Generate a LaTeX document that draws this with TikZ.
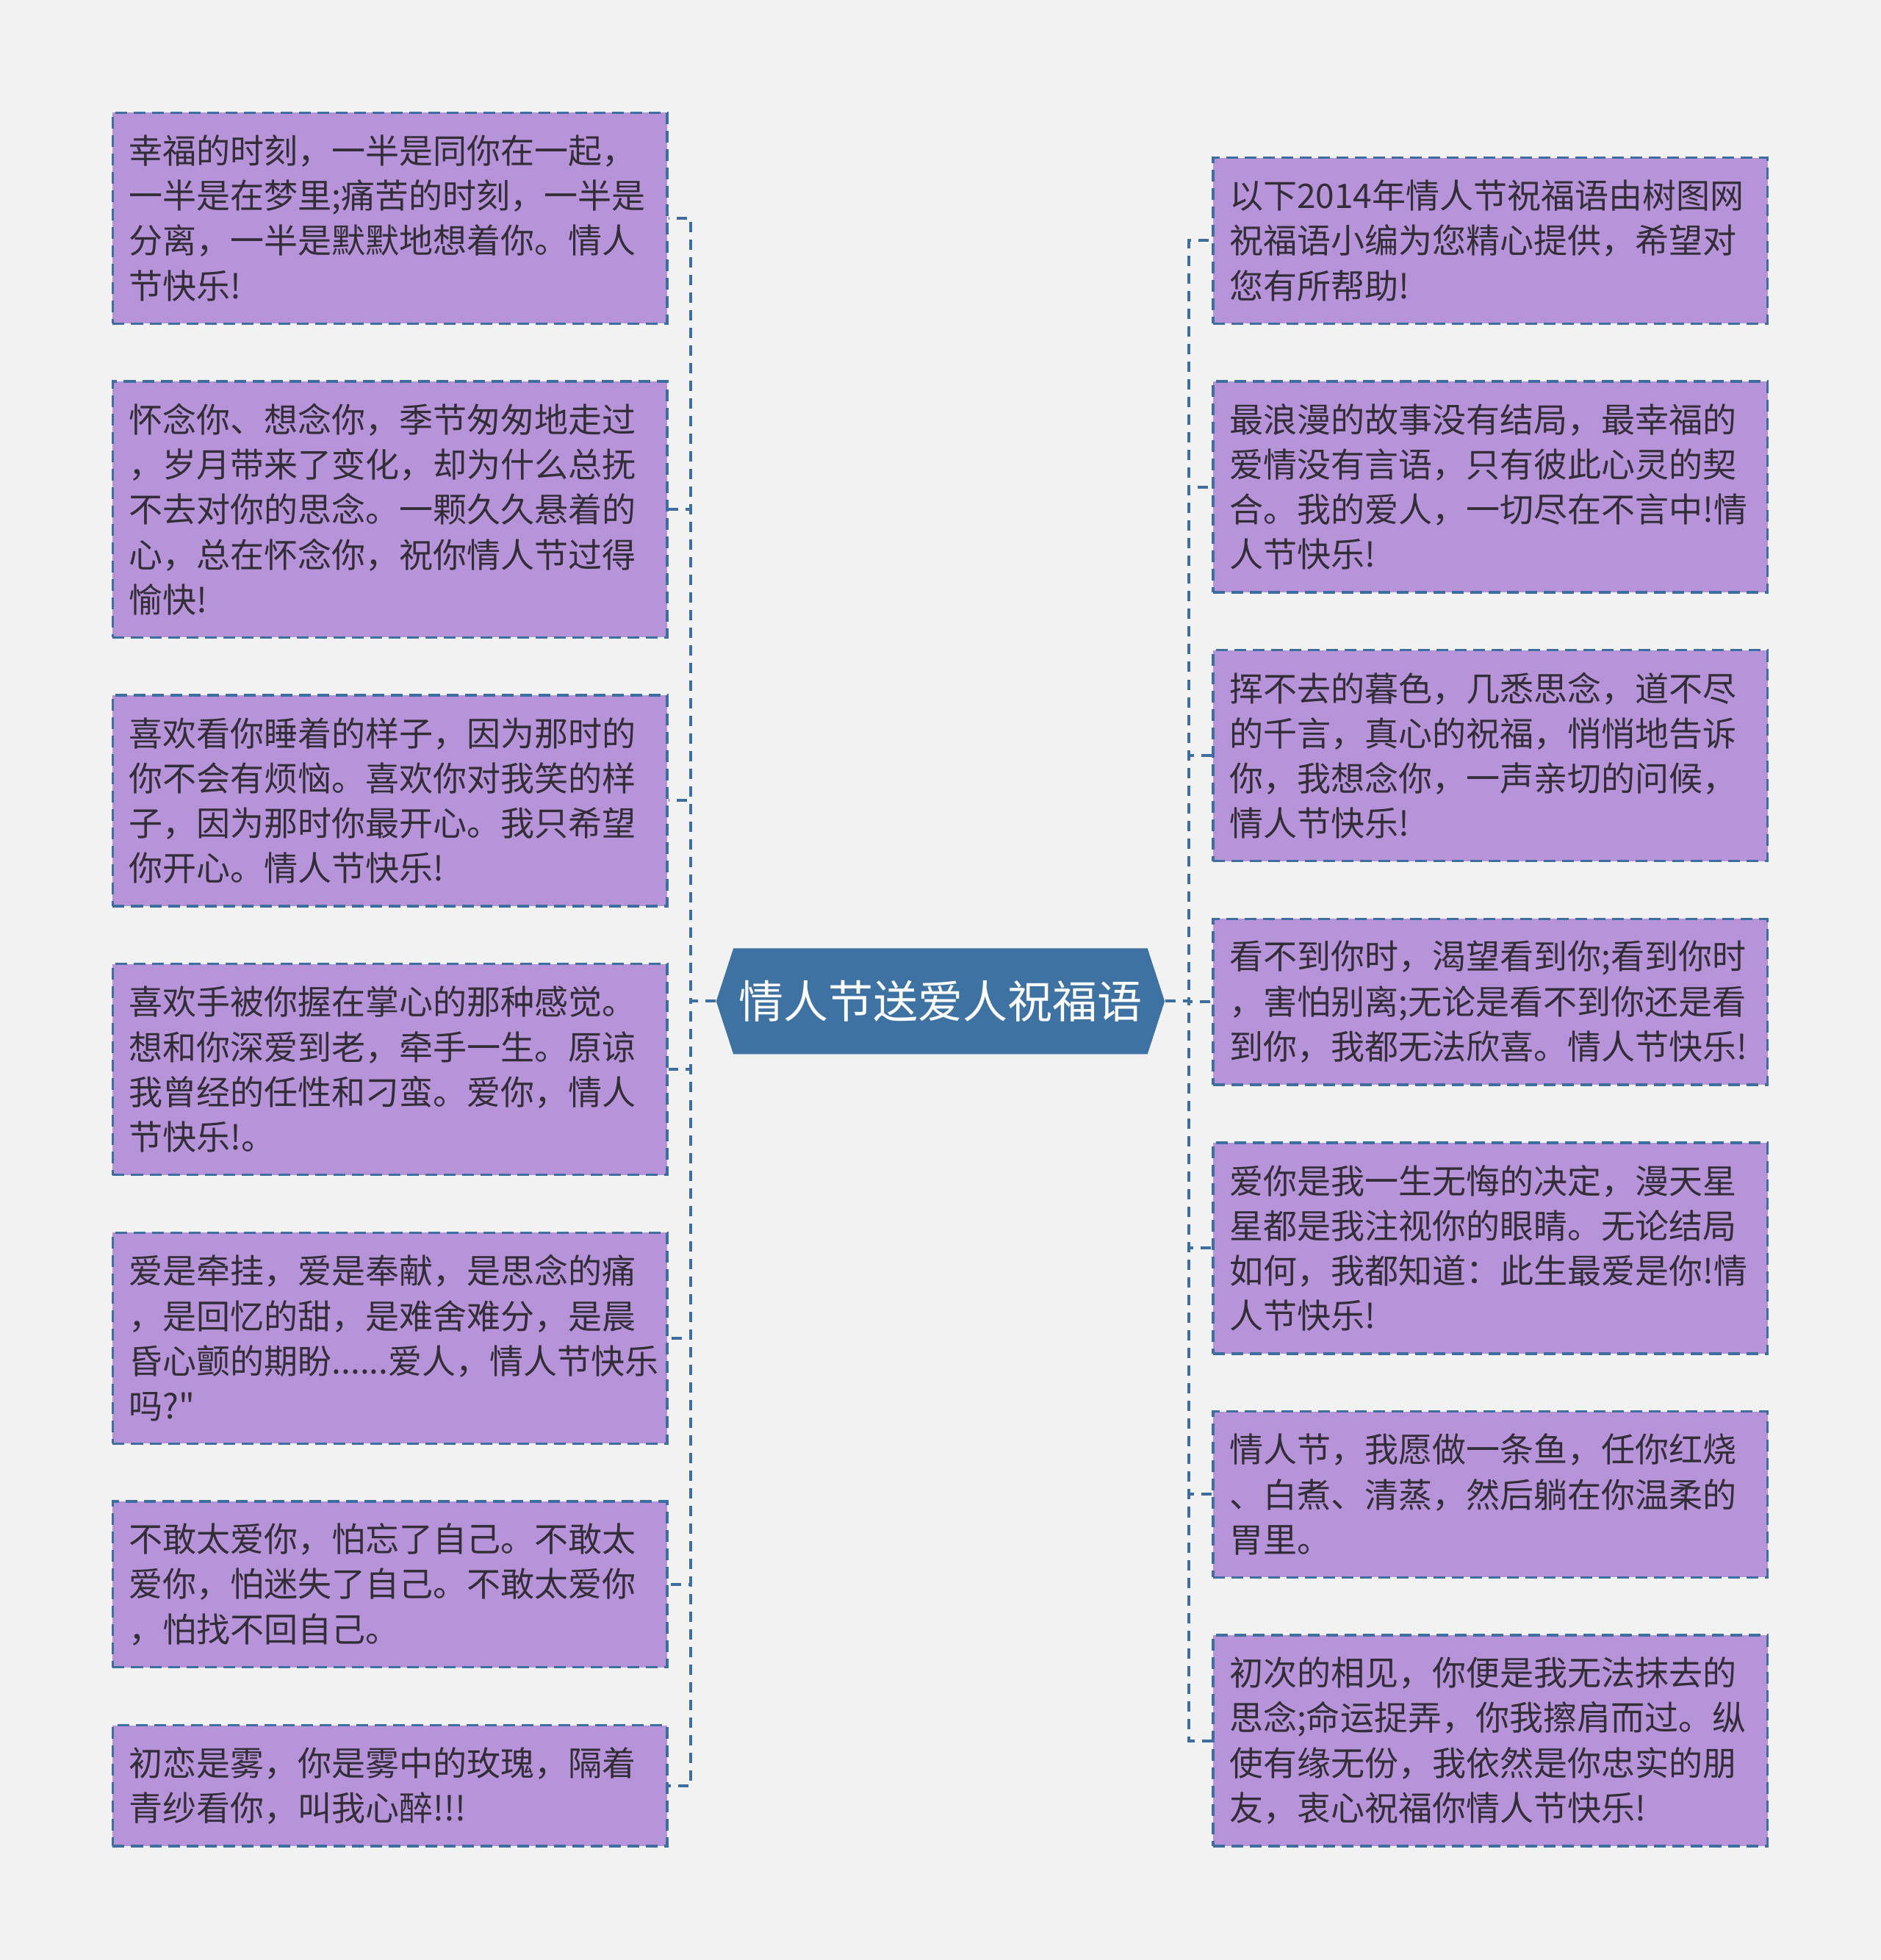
\documentclass[tikz,border=0pt]{standalone}
\usepackage{fontspec}
\newfontfamily\cjk{Noto Sans CJK SC}
\usetikzlibrary{shapes.symbols}
\definecolor{bg-color}{RGB}{242,242,242}
\definecolor{card-color}{RGB}{183,148,218}
\definecolor{line-color}{RGB}{62,110,160}
\definecolor{root-color}{RGB}{62,114,163}
\definecolor{text-color}{RGB}{50,45,55}

\begin{document}
\begin{tikzpicture}[x=0.85pt, y=-0.85pt,
    % purple message cards, height set by the number of lines
    card/.style={draw=line-color, fill=card-color, line width=1.7pt, dash pattern=on 8pt off 4.5pt,
                 text=text-color, font=\cjk\fontsize{23pt}{30.6pt}\selectfont, align=left,
                 text width=355pt, inner xsep=11pt, inner ysep=3pt, minimum height=#1*30.6pt+21pt},
    % central hexagon title
    root/.style={signal, signal to=west and east, signal pointer angle=144, fill=root-color,
                 text=white, font=\cjk\fontsize{30.5pt}{36pt}\selectfont,
                 minimum width=305pt, minimum height=72pt, inner sep=0pt},
    link/.style={draw=line-color, line width=2pt, dash pattern=on 7pt off 5pt}
]

\def\lx{312}   % left column centre
\def\rx{1192.5} % right column centre

% background and page size
\fill[bg-color] (0,0) rectangle (1505,1568);
\useasboundingbox (0,0) rectangle (1505,1568);

% ===== ROOT =====
\node[root] (root) at (752.5, 801) {情人节送爱人祝福语};

% ===== LEFT COLUMN =====
\node[card=4] (l1) at (\lx, 174.5) {幸福的时刻，一半是同你在一起，\\一半是在梦里;痛苦的时刻，一半是\\分离，一半是默默地想着你。情人\\节快乐!};
\node[card=5] (l2) at (\lx, 407.5) {怀念你、想念你，季节匆匆地走过\\，岁月带来了变化，却为什么总抚\\不去对你的思念。一颗久久悬着的\\心，总在怀念你，祝你情人节过得\\愉快!};
\node[card=4] (l3) at (\lx, 640.5) {喜欢看你睡着的样子，因为那时的\\你不会有烦恼。喜欢你对我笑的样\\子，因为那时你最开心。我只希望\\你开心。情人节快乐!};
\node[card=4] (l4) at (\lx, 855.5) {喜欢手被你握在掌心的那种感觉。\\想和你深爱到老，牵手一生。原谅\\我曾经的任性和刁蛮。爱你，情人\\节快乐!。};
\node[card=4] (l5) at (\lx, 1070.5) {爱是牵挂，爱是奉献，是思念的痛\\，是回忆的甜，是难舍难分，是晨\\昏心颤的期盼......爱人，情人节快乐\\吗?"};
\node[card=3] (l6) at (\lx, 1267.5) {不敢太爱你，怕忘了自己。不敢太\\爱你，怕迷失了自己。不敢太爱你\\，怕找不回自己。};
\node[card=2] (l7) at (\lx, 1428.5) {初恋是雾，你是雾中的玫瑰，隔着\\青纱看你，叫我心醉!!!};

% ===== RIGHT COLUMN =====
\node[card=3] (r1) at (\rx, 192.5) {以下2014年情人节祝福语由树图网\\祝福语小编为您精心提供，希望对\\您有所帮助!};
\node[card=4] (r2) at (\rx, 389.5) {最浪漫的故事没有结局，最幸福的\\爱情没有言语，只有彼此心灵的契\\合。我的爱人，一切尽在不言中!情\\人节快乐!};
\node[card=4] (r3) at (\rx, 604.5) {挥不去的暮色，几悉思念，道不尽\\的千言，真心的祝福，悄悄地告诉\\你，我想念你，一声亲切的问候，\\情人节快乐!};
\node[card=3] (r4) at (\rx, 801.5) {看不到你时，渴望看到你;看到你时\\，害怕别离;无论是看不到你还是看\\到你，我都无法欣喜。情人节快乐!};
\node[card=4] (r5) at (\rx, 998.5) {爱你是我一生无悔的决定，漫天星\\星都是我注视你的眼睛。无论结局\\如何，我都知道：此生最爱是你!情\\人节快乐!};
\node[card=3] (r6) at (\rx, 1195.5) {情人节，我愿做一条鱼，任你红烧\\、白煮、清蒸，然后躺在你温柔的\\胃里。};
\node[card=4] (r7) at (\rx, 1392.5) {初次的相见，你便是我无法抹去的\\思念;命运捉弄，你我擦肩而过。纵\\使有缘无份，我依然是你忠实的朋\\友，衷心祝福你情人节快乐!};

% ===== CONNECTORS =====
\draw[link] (root.west) -- ++(-20,0) |- (l1.east);
\draw[link] (root.west) -- ++(-20,0) |- (l2.east);
\draw[link] (root.west) -- ++(-20,0) |- (l3.east);
\draw[link] (root.west) -- ++(-20,0) |- (l4.east);
\draw[link] (root.west) -- ++(-20,0) |- (l5.east);
\draw[link] (root.west) -- ++(-20,0) |- (l6.east);
\draw[link] (root.west) -- ++(-20,0) |- (l7.east);

\draw[link] (root.east) -- ++(19,0) |- (r1.west);
\draw[link] (root.east) -- ++(19,0) |- (r2.west);
\draw[link] (root.east) -- ++(19,0) |- (r3.west);
\draw[link] (root.east) -- ++(19,0) |- (r4.west);
\draw[link] (root.east) -- ++(19,0) |- (r5.west);
\draw[link] (root.east) -- ++(19,0) |- (r6.west);
\draw[link] (root.east) -- ++(19,0) |- (r7.west);

\end{tikzpicture}
\end{document}
